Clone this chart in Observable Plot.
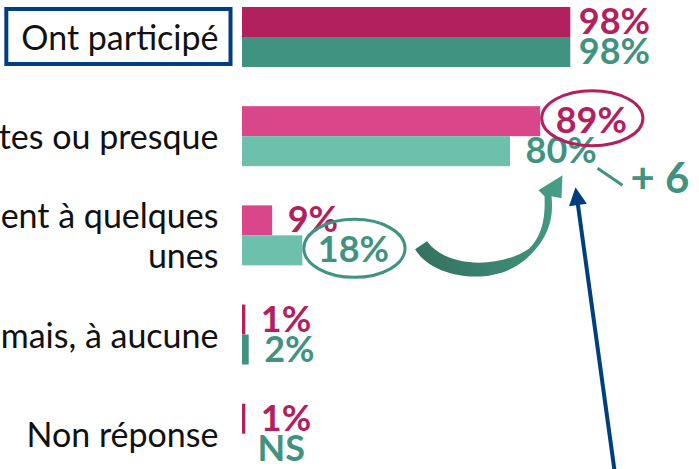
<!DOCTYPE html>
<html><head><meta charset="utf-8">
<script src="https://cdn.jsdelivr.net/npm/d3@7"></script>
<script src="https://cdn.jsdelivr.net/npm/@observablehq/plot@0.6"></script>
<style>body{margin:0;background:#fff} #chart svg{display:block}</style>
</head><body><div id="chart"></div>
<script>
// ---- data ----
const categories = ["Ont participé", "tes ou presque", "ent à quelques\nunes", "mais, à aucune", "Non réponse"];
const seriesNames = ["Série 1", "Série 2"];
const valuesA = [98, 89, 9, 1, 1];
const valuesB = [98, 80, 18, 2, null];
const labelsA = ["98%", "89%", "9%", "1%", "1%"];
const labelsB = ["98%", "80%", "18%", "2%", "NS"];
const deltaLabel = "+ 6";

// ---- styles ----
const magDark = "#B2205E", magLight = "#D9468A";
const grnDark = "#3F9380", grnLight = "#6CC0AC";
const navy = "#003F7F";
const valueFont = 36, catFont = 34, deltaFont = 42;

function draw() {
const rows = categories.map((c, i) => ({category: c, index: i}));
const long = categories.flatMap((c, i) => [
  {category: c, index: i, series: seriesNames[0], value: valuesA[i], label: labelsA[i]},
  {category: c, index: i, series: seriesNames[1], value: valuesB[i], label: labelsB[i]}
]);
const isA = d => d.series === seriesNames[0];
const barFill = d => {
  const strong = d.index === 0 || (d.value ?? 0) < 5;
  return isA(d) ? (strong ? magDark : magLight) : (strong ? grnDark : grnLight);
};
const labelFill = d => isA(d) ? magDark : grnDark;

const plot = Plot.plot({
  width: 699, height: 469,
  marginLeft: 242, marginRight: 122, marginTop: 6, marginBottom: 5,
  x: {domain: [0, 100], axis: null},
  y: {domain: seriesNames, axis: null, padding: 0},
  fy: {domain: categories, axis: null, paddingInner: 0.382, paddingOuter: 0, round: false},
  color: {type: "identity"},
  style: {fontFamily: "Lato", background: "#fff", overflow: "visible"},
  marks: [
    Plot.barX(long, {fy: "category", y: "series", x: "value", fill: barFill}),
    Plot.ruleX(long.filter(d => d.value == null), {fy: "category", y: "series", x: () => 0, stroke: grnDark, strokeWidth: 1}),
    Plot.text(rows, {fy: "category", x: () => 0, text: "category", textAnchor: "end", dx: -24,
      fontSize: catFont, lineHeight: 1.18, fill: "#111"}),
    Plot.text(long.filter(d => d.index === 0), {fy: "category", y: "series", x: "value", text: "label",
      textAnchor: "start", dx: 8, fontSize: valueFont, fontWeight: 700, fill: labelFill}),
    Plot.text(long.filter(d => d.index > 0), {fy: "category", y: "series", x: d => d.value ?? 0, text: "label",
      textAnchor: "start", dx: 15, fontSize: valueFont, fontWeight: 700, fill: labelFill})
  ]
});
document.getElementById("chart").appendChild(plot);

// ---- annotations positioned from the rendered labels ----
const svg = d3.select(plot);
const origin = plot.getBoundingClientRect();
function box(txt) {
  const el = Array.from(plot.querySelectorAll("text")).find(t => t.textContent === txt);
  const r = el.getBoundingClientRect();
  return {left: r.left - origin.left, right: r.right - origin.left,
          top: r.top - origin.top, bottom: r.bottom - origin.top,
          cx: (r.left + r.right) / 2 - origin.left, cy: (r.top + r.bottom) / 2 - origin.top,
          w: r.width, h: r.height};
}
const ann = svg.append("g").attr("fill", "none");

// box around headline category
const hb = box(categories[0]);
ann.append("rect").attr("x", hb.left - 15).attr("y", hb.cy - 27.5)
  .attr("width", hb.w + 27).attr("height", 55)
  .attr("stroke", navy).attr("stroke-width", 4);

// ellipses
const b89 = box(labelsA[1]);
ann.append("ellipse").attr("cx", b89.cx + 1).attr("cy", b89.cy - 1)
  .attr("rx", b89.w / 2 + 15).attr("ry", 27.5).attr("stroke", magDark).attr("stroke-width", 3);
const b18 = box(labelsB[2]);
const e18 = {cx: b18.cx + 1, cy: b18.cy, rx: b18.w / 2 + 15, ry: 29};
ann.append("ellipse").attr("cx", e18.cx).attr("cy", e18.cy)
  .attr("rx", e18.rx).attr("ry", e18.ry).attr("stroke", grnDark).attr("stroke-width", 3);

// 80% anchor
const b80 = box(labelsB[1]);
const base80 = b80.cy + 0.36 * valueFont;
const right80 = b80.left + 72;

// curved tapered arrow from 18% to 80%
const S = [e18.cx + e18.rx, e18.cy];
const T = [b80.left + 37, base80 + 13];
const s = (dx, dy) => `${S[0] + dx},${S[1] + dy}`;
const t = (dx, dy) => `${T[0] + dx},${T[1] + dy}`;
const defs = svg.append("defs");
const grad = defs.append("linearGradient").attr("id", "arrowGrad")
  .attr("gradientUnits", "userSpaceOnUse")
  .attr("x1", S[0]).attr("y1", S[1]).attr("x2", T[0]).attr("y2", T[1]);
grad.append("stop").attr("offset", "0%").attr("stop-color", "#33705E");
grad.append("stop").attr("offset", "100%").attr("stop-color", "#46A088");
ann.append("path").attr("fill", "url(#arrowGrad)").attr("d",
  `M${s(10, 1)} C${s(30, 33)} ${s(95, 39)} ${s(125, 7)}` +
  ` C${t(-12, 60)} ${t(-9, 40)} ${t(-11, 21)}` +
  ` L${t(-1, 23)} L${t(0, 0)} L${t(-24, 15)} L${t(-18, 21)}` +
  ` C${t(-17, 42)} ${t(-20, 60)} ${t(-33, 73)}` +
  ` C${s(95, 21)} ${s(40, 19)} ${s(22, -7)} Z`);

// dash and delta text
ann.append("line").attr("x1", right80).attr("y1", base80 + 6)
  .attr("x2", right80 + 25).attr("y2", base80 + 23)
  .attr("stroke", grnDark).attr("stroke-width", 3);
svg.append("text").attr("x", right80 + 33).attr("y", base80 + 16).attr("dy", "0.36em")
  .attr("text-anchor", "start")
  .attr("fill", grnDark).attr("font-family", "Lato").attr("font-weight", 700)
  .attr("font-size", deltaFont).text(deltaLabel);

// blue arrow pointing up at the 80% area
const tip = [b80.left + 50, base80 + 25];
const dir = [0.1364, 0.9907];
const perp = [dir[1], -dir[0]];
const hl = 18, hw = 9;
const bx = tip[0] + dir[0] * hl, by = tip[1] + dir[1] * hl;
ann.append("line").attr("x1", bx - dir[0] * 2).attr("y1", by - dir[1] * 2)
  .attr("x2", tip[0] + dir[0] * 320).attr("y2", tip[1] + dir[1] * 320)
  .attr("stroke", navy).attr("stroke-width", 4);
ann.append("path").attr("fill", navy).attr("d",
  `M${tip[0]},${tip[1]} L${bx + perp[0] * hw},${by + perp[1] * hw} L${bx - perp[0] * hw},${by - perp[1] * hw} Z`);
}

Promise.all([
  document.fonts.load(`400 ${catFont}px Lato`, "Ont participé"),
  document.fonts.load(`700 ${valueFont}px Lato`, "0123456789%NS+")
]).catch(() => {}).then(() => document.fonts.ready).then(draw, draw);
</script>
</body></html>
